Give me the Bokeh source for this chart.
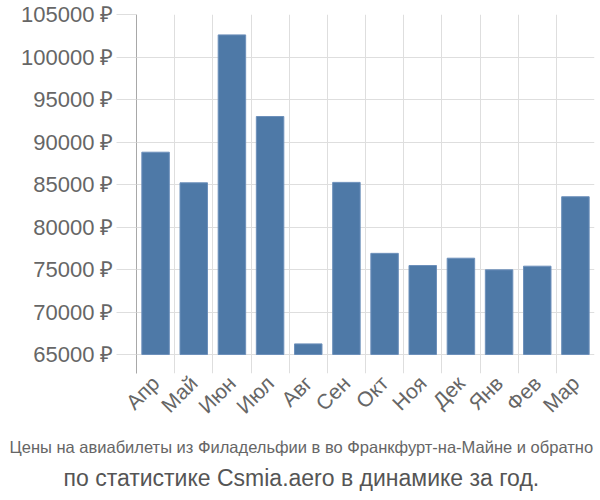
from bokeh.plotting import figure
from bokeh.models import FixedTicker, Range1d, Title
from bokeh.embed import file_html
from bokeh.resources import INLINE
import math

months = ["Апр", "Май", "Июн", "Июл", "Авг", "Сен", "Окт", "Ноя", "Дек", "Янв", "Фев", "Мар"]
prices = [88800, 85200, 102600, 93000, 66250, 85250, 76900, 75470, 76330, 74960, 75390, 83560]
y_ticks = [65000, 70000, 75000, 80000, 85000, 90000, 95000, 100000, 105000]
title1 = "Цены на авиабилеты из Филадельфии в во Франкфурт-на-Майне и обратно"
title2 = "по статистике Csmia.aero в динамике за год."

base = 65000
n = len(months)
xs = [i + 0.5 for i in range(n)]

p = figure(width=600, height=500, output_backend="svg", toolbar_location=None,
           x_range=Range1d(0, n), y_range=Range1d(62765, 105000),
           min_border_left=136, min_border_right=6, min_border_top=14, min_border_bottom=127)
p.outline_line_color = None
p.background_fill_color = "white"
p.border_fill_color = "white"

p.vbar(x=xs, top=prices, bottom=base, width=0.72, fill_color="#4e79a7", line_color="#6d90bb", line_width=1)

# grids
p.xgrid.ticker = FixedTicker(ticks=list(range(n + 1)))
p.ygrid.ticker = FixedTicker(ticks=y_ticks)
p.xgrid.grid_line_color = "#dedede"
p.ygrid.grid_line_color = "#dedede"

# x axis
xa = p.xaxis[0]
xa.ticker = FixedTicker(ticks=xs)
xa.major_label_overrides = {x: m for x, m in zip(xs, months)}
xa.major_label_orientation = math.pi / 4
xa.axis_line_color = None
xa.major_tick_line_color = None
xa.minor_tick_line_color = None
xa.major_label_text_font = "Liberation Sans"
xa.major_label_text_font_size = "21px"
xa.major_label_text_color = "#666666"
xa.major_label_standoff = 0

# y axis
ya = p.yaxis[0]
ya.ticker = FixedTicker(ticks=y_ticks)
ya.major_label_overrides = {v: f"{v} ₽" for v in y_ticks}
ya.axis_line_color = "#a8a8a8"
ya.major_tick_line_color = "#dedede"
ya.major_tick_out = 20
ya.major_tick_in = 0
ya.minor_tick_line_color = None
ya.major_label_text_font = "Liberation Sans"
ya.major_label_text_font_size = "22px"
ya.major_label_text_color = "#666666"
ya.major_label_standoff = 3

t1 = Title(text=title1, align="left", offset=-127, standoff=14,
           text_font="Liberation Sans", text_font_size="16.5px", text_font_style="normal",
           text_color="#666666")
t2 = Title(text=title2, align="left", offset=-73, standoff=0,
           text_font="Liberation Sans", text_font_size="23px", text_font_style="normal",
           text_color="#555555")
p.add_layout(t1, "below")
p.add_layout(t2, "below")

open("out.html", "w").write(file_html(p, INLINE))
